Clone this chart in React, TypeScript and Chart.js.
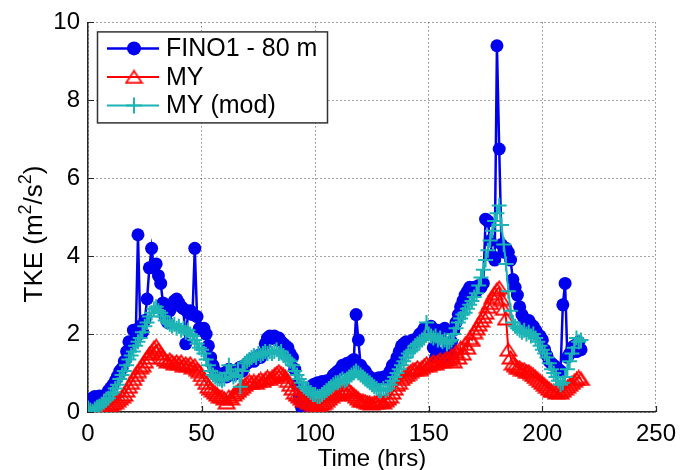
import { useEffect, useRef } from "react";
import { Chart, registerables } from "chart.js";

Chart.register(...registerables);

// Hourly time stamps (hrs)
const TIME_HRS: number[] = Array.from({ length: 218 }, (_, i) => i);

// Measured turbulent kinetic energy at FINO1, 80 m (m^2/s^2)
const FINO1_80M: number[] = [
  0.10, 0.28, 0.36, 0.40, 0.37, 0.41, 0.34, 0.32, 0.45, 0.55,
  0.62, 0.70, 0.80, 0.92, 1.05, 1.12, 1.30, 1.55, 1.80, 1.75,
  2.10, 1.90, 4.55, 2.20, 2.05, 2.35, 2.90, 3.70, 4.20, 3.70,
  3.80, 3.50, 3.30, 2.80, 2.45, 2.30, 2.60, 2.75, 2.85, 2.90,
  2.80, 2.70, 2.65, 1.75, 2.55, 2.60, 2.50, 4.20, 2.45, 2.15,
  2.10, 2.15, 2.00, 1.70, 1.40, 1.20, 1.05, 0.95, 0.90, 0.95,
  1.00, 0.90, 1.10, 1.05, 0.95, 1.00, 1.10, 1.15, 1.05, 1.20,
  1.25, 1.30, 1.35, 1.30, 1.40, 1.45, 1.40, 1.50, 1.75, 1.90,
  1.95, 1.90, 1.95, 1.85, 1.90, 1.80, 1.75, 1.70, 1.65, 1.50,
  1.40, 1.10, 0.70, 0.35, 0.12, 0.10, 0.25, 0.45, 0.60, 0.70,
  0.72, 0.75, 0.70, 0.78, 0.74, 0.80, 0.76, 0.85, 0.95, 1.00,
  1.05, 1.10, 1.20, 1.15, 1.25, 1.20, 1.30, 1.35, 2.50, 1.85,
  1.20, 1.10, 1.05, 0.95, 0.90, 0.85, 0.85, 0.82, 0.88, 0.86,
  0.90, 0.85, 0.95, 1.05, 1.20, 1.25, 1.40, 1.55, 1.70, 1.75,
  1.80, 1.70, 1.75, 1.85, 1.80, 1.90, 2.00, 2.05, 2.15, 2.10,
  2.15, 2.20, 1.65, 1.40, 2.10, 1.35, 1.50, 2.15, 1.45, 1.60,
  1.80, 2.10, 2.30, 2.50, 2.70, 2.85, 3.00, 3.10, 3.20, 3.15,
  3.20, 3.10, 3.25, 3.20, 3.30, 4.95, 4.90, 4.40, 4.00, 3.90,
  9.40, 6.75, 4.30, 4.10, 4.20, 4.10, 3.90, 3.40, 3.20, 3.00,
  2.70, 2.50, 2.40, 2.30, 2.35, 2.25, 2.20, 2.10, 2.00, 1.95,
  1.85, 1.60, 1.45, 1.30, 1.25, 1.20, 1.15, 1.10, 1.05, 2.75,
  3.30, 1.40, 1.50, 1.65, 1.70, 1.55, 1.80, 1.60,
];

// Mellor-Yamada scheme (m^2/s^2)
const MY: number[] = [
  0.02, 0.00, 0.01, 0.03, 0.02, 0.05, 0.04, 0.08, 0.10, 0.15,
  0.18, 0.22, 0.25, 0.30, 0.35, 0.40, 0.45, 0.55, 0.65, 0.75,
  0.85, 0.95, 1.05, 1.15, 1.20, 1.30, 1.40, 1.50, 1.55, 1.65,
  1.70, 1.60, 1.50, 1.40, 1.35, 1.30, 1.35, 1.30, 1.25, 1.30,
  1.25, 1.30, 1.20, 1.25, 1.20, 1.25, 1.15, 1.20, 1.10, 1.05,
  0.95, 0.85, 0.75, 0.65, 0.60, 0.55, 0.50, 0.45, 0.40, 0.40,
  0.35, 0.25, 0.40, 0.35, 0.45, 0.50, 0.55, 0.60, 0.65, 0.70,
  0.75, 0.80, 0.75, 0.80, 0.75, 0.80, 0.85, 0.80, 0.85, 0.90,
  0.85, 0.90, 0.95, 1.00, 1.05, 1.00, 0.95, 0.90, 0.80, 0.70,
  0.60, 0.50, 0.45, 0.40, 0.35, 0.30, 0.30, 0.25, 0.25, 0.20,
  0.20, 0.18, 0.20, 0.22, 0.25, 0.30, 0.35, 0.40, 0.45, 0.50,
  0.45, 0.50, 0.55, 0.55, 0.60, 0.55, 0.50, 0.45, 0.40, 0.35,
  0.30, 0.30, 0.28, 0.25, 0.25, 0.22, 0.25, 0.25, 0.30, 0.28,
  0.25, 0.30, 0.35, 0.40, 0.50, 0.60, 0.70, 0.75, 0.85, 0.90,
  0.95, 1.00, 1.05, 1.10, 1.10, 1.15, 1.10, 1.15, 1.20, 1.25,
  1.20, 1.25, 1.30, 1.25, 1.30, 1.35, 1.30, 1.35, 1.40, 1.35,
  1.45, 1.30, 1.55, 1.40, 1.65, 1.50, 1.75, 1.65, 1.90, 1.85,
  2.05, 2.15, 2.25, 2.35, 2.45, 2.55, 2.70, 2.80, 2.95, 3.05,
  3.15, 3.20, 2.90, 2.65, 2.40, 1.60, 1.40, 1.25, 1.20, 1.15,
  1.15, 1.10, 1.10, 1.05, 1.05, 1.00, 0.95, 0.90, 0.85, 0.80,
  0.75, 0.70, 0.65, 0.60, 0.55, 0.55, 0.50, 0.55, 0.50, 0.55,
  0.60, 0.65, 0.70, 0.75, 0.80, 0.85, 0.90, 0.85,
];

// Modified Mellor-Yamada scheme (m^2/s^2)
const MY_MOD: number[] = [
  0.10, 0.05, 0.02, 0.08, 0.12, 0.15, 0.20, 0.25, 0.30, 0.35,
  0.45, 0.50, 0.60, 0.70, 0.85, 0.95, 1.05, 1.20, 1.35, 1.45,
  1.55, 1.70, 1.80, 1.90, 2.05, 2.20, 2.30, 2.45, 2.55, 2.65,
  2.70, 2.60, 2.55, 2.45, 2.35, 2.30, 2.25, 2.20, 2.25, 2.15,
  2.20, 2.10, 2.15, 2.05, 2.10, 2.00, 1.95, 1.85, 1.75, 1.65,
  1.60, 1.50, 1.35, 1.20, 1.05, 0.95, 0.90, 0.85, 0.85, 0.80,
  0.85, 1.00, 1.20, 1.00, 0.90, 0.95, 1.10, 0.65, 1.05, 1.25,
  1.30, 1.35, 1.40, 1.45, 1.40, 1.50, 1.45, 1.50, 1.55, 1.50,
  1.55, 1.50, 1.55, 1.60, 1.50, 1.55, 1.45, 1.40, 1.35, 1.30,
  1.20, 1.05, 0.95, 0.85, 0.75, 0.65, 0.60, 0.55, 0.50, 0.45,
  0.45, 0.40, 0.40, 0.45, 0.50, 0.55, 0.60, 0.65, 0.70, 0.75,
  0.75, 0.80, 0.85, 0.80, 0.85, 0.90, 0.95, 1.00, 1.05, 1.00,
  0.95, 0.90, 0.85, 0.80, 0.75, 0.70, 0.65, 0.60, 0.55, 0.55,
  0.60, 0.55, 0.60, 0.70, 0.80, 0.90, 1.00, 1.10, 1.20, 1.30,
  1.40, 1.50, 1.55, 1.60, 1.70, 1.75, 1.80, 1.85, 1.90, 2.30,
  2.00, 1.95, 1.90, 1.95, 1.85, 1.90, 1.80, 1.85, 1.75, 1.80,
  1.85, 2.00, 2.15, 2.30, 2.40, 2.50, 2.55, 2.65, 2.75, 2.85,
  2.95, 3.05, 3.25, 3.45, 3.65, 3.90, 4.15, 4.40, 4.65, 4.90,
  5.10, 5.30, 4.80, 4.30, 3.80, 3.10, 2.60, 2.30, 2.20, 2.15,
  2.10, 2.05, 2.10, 2.00, 2.05, 1.95, 2.00, 1.90, 1.80, 1.70,
  1.60, 1.50, 1.40, 1.25, 1.10, 1.00, 0.90, 0.80, 0.70, 0.75,
  0.90, 1.10, 1.30, 1.50, 1.65, 1.90, 1.80, 1.85,
];

const SERIES_NAMES = ["FINO1 - 80 m", "MY", "MY (mod)"];
const X_TICKS = [0, 50, 100, 150, 200, 250];
const Y_TICKS = [0, 2, 4, 6, 8, 10];
const X_TITLE = "Time (hrs)";
// y-axis title as text runs; "sup" runs are drawn as superscripts
const Y_TITLE_RUNS = [
  { text: "TKE (m", sup: false },
  { text: "2", sup: true },
  { text: "/s", sup: false },
  { text: "2", sup: true },
  { text: ")", sup: false },
];

const BLUE = "#0000ee";
const RED = "#ff0000";
const CYAN = "#1cb4b4";
const AXIS_COLOR = "#262626";
const GRID_COLOR = "#4a4a4a";
const FONT_FAMILY = "'Liberation Sans', Arial, Helvetica, sans-serif";

// Open upward triangle used as the MY marker
function makeTriangle(color: string): HTMLCanvasElement {
  const c = document.createElement("canvas");
  c.width = 19;
  c.height = 15;
  const g = c.getContext("2d")!;
  g.strokeStyle = color;
  g.lineWidth = 1.8;
  g.lineJoin = "miter";
  g.beginPath();
  g.moveTo(9.5, 1.5);
  g.lineTo(17.5, 13.5);
  g.lineTo(1.5, 13.5);
  g.closePath();
  g.stroke();
  return c;
}

function drawMarker(ctx: CanvasRenderingContext2D, kind: string, x: number, y: number, color: string, tri: HTMLCanvasElement) {
  ctx.save();
  if (kind === "circle") {
    ctx.fillStyle = color;
    ctx.beginPath();
    ctx.arc(x, y, 7, 0, Math.PI * 2);
    ctx.fill();
  } else if (kind === "triangle") {
    ctx.drawImage(tri, x - tri.width / 2, y - tri.height / 2);
  } else {
    ctx.strokeStyle = color;
    ctx.lineWidth = 2;
    ctx.beginPath();
    ctx.moveTo(x - 8, y);
    ctx.lineTo(x + 8, y);
    ctx.moveTo(x, y - 8);
    ctx.lineTo(x, y + 8);
    ctx.stroke();
  }
  ctx.restore();
}

export default function App() {
  const ref = useRef<HTMLCanvasElement | null>(null);

  useEffect(() => {
    const canvas = ref.current;
    if (!canvas) return;
    const tri = makeTriangle(RED);

    const legendRows = [
      { name: SERIES_NAMES[0], color: BLUE, marker: "circle", lw: 2.5 },
      { name: SERIES_NAMES[1], color: RED, marker: "triangle", lw: 2 },
      { name: SERIES_NAMES[2], color: CYAN, marker: "cross", lw: 2 },
    ];

    const framePlugin = {
      id: "frame",
      beforeDatasetsDraw(chart: any) {
        const { ctx, chartArea: a, scales } = chart;
        ctx.save();
        ctx.strokeStyle = AXIS_COLOR;
        ctx.lineWidth = 1.2;
        ctx.beginPath();
        for (const v of X_TICKS) {
          const x = Math.round(scales.x.getPixelForValue(v)) + 0.5;
          ctx.moveTo(x, a.bottom);
          ctx.lineTo(x, a.bottom - 6);
        }
        for (const v of Y_TICKS) {
          const y = Math.round(scales.y.getPixelForValue(v)) + 0.5;
          ctx.moveTo(a.left, y);
          ctx.lineTo(a.left + 6, y);
        }
        ctx.stroke();
        ctx.restore();
      },
      afterDraw(chart: any) {
        const { ctx, chartArea: a } = chart;
        ctx.save();
        // x-axis title
        ctx.fillStyle = "#000";
        ctx.font = `24px ${FONT_FAMILY}`;
        ctx.textAlign = "center";
        ctx.textBaseline = "alphabetic";
        ctx.fillText(X_TITLE, (a.left + a.right) / 2, 466);

        // y-axis title, rotated, with superscripts
        ctx.save();
        ctx.translate(42, 234);
        ctx.rotate(-Math.PI / 2);
        ctx.textAlign = "left";
        const mainFont = `26px ${FONT_FAMILY}`;
        const supFont = `18px ${FONT_FAMILY}`;
        let total = 0;
        for (const r of Y_TITLE_RUNS) {
          ctx.font = r.sup ? supFont : mainFont;
          total += ctx.measureText(r.text).width;
        }
        let xPos = -total / 2;
        for (const r of Y_TITLE_RUNS) {
          ctx.font = r.sup ? supFont : mainFont;
          ctx.fillText(r.text, xPos, r.sup ? -11 : 0);
          xPos += ctx.measureText(r.text).width;
        }
        ctx.restore();

        // legend box
        const bx = a.left + 9;
        const by = a.top + 9;
        const bw = 230;
        const bh = 91;
        ctx.fillStyle = "#fff";
        ctx.fillRect(bx, by, bw, bh);
        ctx.strokeStyle = "#333";
        ctx.lineWidth = 1.5;
        ctx.strokeRect(bx + 0.5, by + 0.5, bw, bh);
        legendRows.forEach((r, i) => {
          const cy = by + 17 + i * 28.5;
          ctx.strokeStyle = r.color;
          ctx.lineWidth = r.lw;
          ctx.beginPath();
          ctx.moveTo(bx + 10, cy);
          ctx.lineTo(bx + 62, cy);
          ctx.stroke();
          drawMarker(ctx, r.marker, bx + 37, cy, r.color, tri);
          ctx.fillStyle = "#000";
          ctx.font = `25px ${FONT_FAMILY}`;
          ctx.textAlign = "left";
          ctx.textBaseline = "middle";
          ctx.fillText(r.name, bx + 69, cy + 1);
        });
        ctx.restore();
      },
    };

    const tickFont = { family: FONT_FAMILY, size: 24 };

    const chart = new Chart(canvas, {
      type: "line",
      data: {
        datasets: [
          {
            label: SERIES_NAMES[0],
            data: TIME_HRS.map((t, i) => ({ x: t, y: FINO1_80M[i] })),
            borderColor: BLUE,
            backgroundColor: BLUE,
            borderWidth: 2.5,
            pointStyle: "circle",
            pointRadius: 6.5,
            pointBorderWidth: 0,
            pointBackgroundColor: BLUE,
            order: 3,
          },
          {
            label: SERIES_NAMES[1],
            data: TIME_HRS.map((t, i) => ({ x: t, y: MY[i] })),
            borderColor: RED,
            backgroundColor: RED,
            borderWidth: 2,
            pointStyle: tri,
            pointRadius: 7,
            order: 2,
          },
          {
            label: SERIES_NAMES[2],
            data: TIME_HRS.map((t, i) => ({ x: t, y: MY_MOD[i] })),
            borderColor: CYAN,
            backgroundColor: CYAN,
            borderWidth: 2,
            pointStyle: "cross",
            pointRadius: 7.5,
            pointBorderWidth: 2,
            order: 1,
          },
        ],
      },
      options: {
        animation: false,
        responsive: false,
        devicePixelRatio: 1,
        events: [],
        layout: { padding: { left: 0, top: 22, right: 23, bottom: 0 } },
        plugins: {
          legend: { display: false },
          tooltip: { enabled: false },
        },
        scales: {
          x: {
            type: "linear",
            min: 0,
            max: 250,
            afterFit: (s: any) => {
              s.height = 58;
            },
            afterBuildTicks: (s: any) => {
              s.ticks = X_TICKS.map((v) => ({ value: v }));
            },
            ticks: { font: tickFont, color: "#000", padding: 8, maxRotation: 0, autoSkip: false },
            grid: { color: GRID_COLOR, lineWidth: 1, drawTicks: false },
            border: { display: true, color: AXIS_COLOR, width: 1.5, dash: [1, 3] },
          },
          y: {
            type: "linear",
            min: 0,
            max: 10,
            afterFit: (s: any) => {
              s.width = 88;
            },
            afterBuildTicks: (s: any) => {
              s.ticks = Y_TICKS.map((v) => ({ value: v }));
            },
            ticks: { font: tickFont, color: "#000", padding: 8, autoSkip: false },
            grid: { color: GRID_COLOR, lineWidth: 1, drawTicks: false },
            border: { display: true, color: AXIS_COLOR, width: 1.5, dash: [1, 3] },
          },
        },
      },
      plugins: [framePlugin],
    } as any);

    return () => chart.destroy();
  }, []);

  return (
    <div style={{ position: "absolute", left: 0, top: 0, width: 684, height: 470, background: "#fff" }}>
      <canvas ref={ref} width={684} height={470} style={{ display: "block", width: 684, height: 470 }} />
    </div>
  );
}
